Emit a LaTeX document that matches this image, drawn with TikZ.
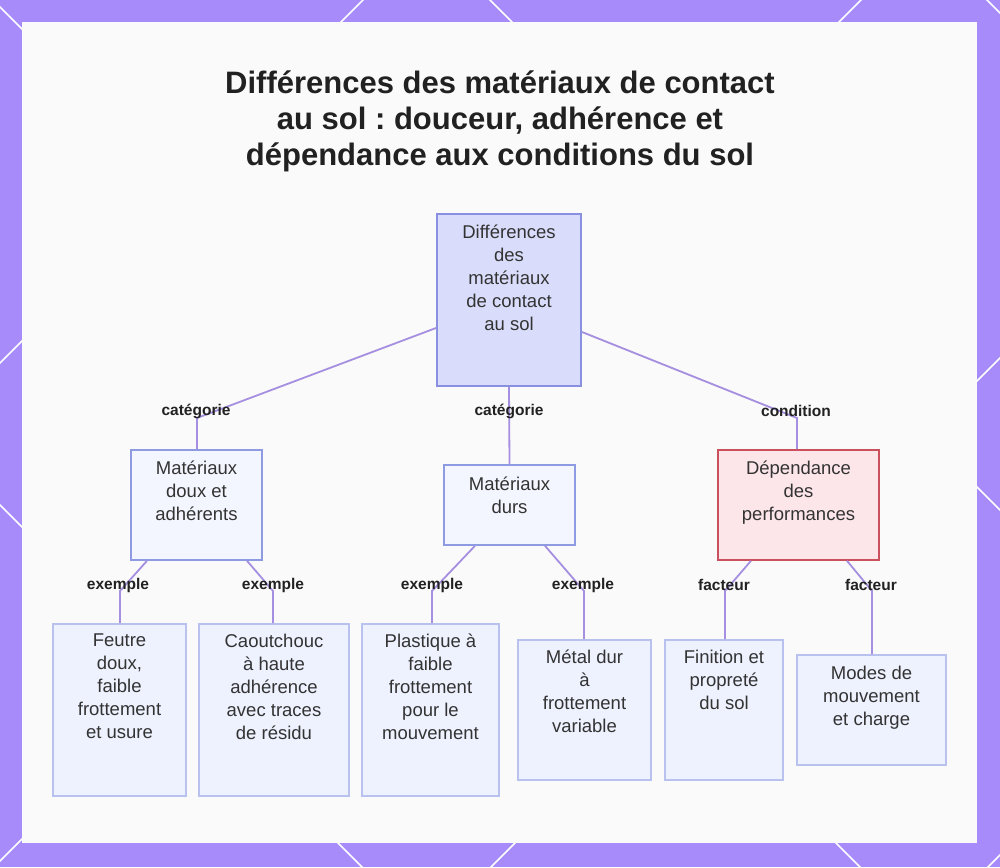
\documentclass[tikz,border=0pt]{standalone}
\usepackage{fontspec}
\setmainfont{Liberation Sans}
\frenchspacing
\definecolor{framec}{HTML}{A78BFA}
\definecolor{panelc}{HTML}{FAFAFA}
\definecolor{edgec}{HTML}{A58FE0}
\definecolor{titlec}{HTML}{212121}
\definecolor{bodyc}{HTML}{333333}
\definecolor{rootf}{HTML}{D9DDFB}
\definecolor{rootd}{HTML}{8A90E0}
\definecolor{midf}{HTML}{F4F6FF}
\definecolor{midd}{HTML}{8E9BE2}
\definecolor{redf}{HTML}{FDE6EA}
\definecolor{redd}{HTML}{C9505C}
\definecolor{leaff}{HTML}{EEF1FE}
\definecolor{leafd}{HTML}{B9C2EE}
\begin{document}
\begin{tikzpicture}[x=1pt,y=-1pt,
  edge/.style={draw=edgec, line width=1.8pt},
  lbl/.style={font=\bfseries\fontsize{15.5}{18}\selectfont, text=titlec, inner sep=1pt},
  txt/.style={font=\fontsize{18.5}{23}\selectfont, text=bodyc, align=center, inner sep=0pt, anchor=north},
  rootbox/.style={draw=rootd, fill=rootf, line width=2pt, inner sep=0pt},
  midbox/.style={draw=midd, fill=midf, line width=1.6pt, inner sep=0pt},
  redbox/.style={draw=redd, fill=redf, line width=1.6pt, inner sep=0pt},
  leafbox/.style={draw=leafd, fill=leaff, line width=1.6pt, inner sep=0pt},
  lattice/.style={draw=white, line width=1.5pt}
]
\useasboundingbox (0,0) rectangle (1000,867);
% frame
\fill[framec] (0,0) rectangle (1000,867);
\begin{scope}
\clip (0,0) rectangle (1000,867);
\foreach \c in {-505,-7,490,987} {
  \draw[lattice] (-100,-100-\c) -- (1100,1100-\c);
}
\foreach \c in {363,861,1358,1855} {
  \draw[lattice] (-100,\c+100) -- (1100,\c-1100);
}
\end{scope}
\fill[panelc] (22,22) rectangle (977,843);

% title
\node[font=\bfseries\fontsize{31}{36}\selectfont, text=titlec, align=center, inner sep=0pt] (title) at (500,121)
  {Différences des matériaux de contact\\au sol : douceur, adhérence et\\dépendance aux conditions du sol};

% boxes
\node[rootbox, minimum width=144pt, minimum height=172pt] (root) at (509,300) {};
\node[midbox, minimum width=131pt, minimum height=110pt] (m1) at (196.5,505) {};
\node[midbox, minimum width=131pt, minimum height=80pt] (m2) at (509.5,505) {};
\node[redbox, minimum width=161pt, minimum height=110pt] (m3) at (798.5,505) {};
\node[leafbox, minimum width=133pt, minimum height=172pt] (l1) at (119.5,710) {};
\node[leafbox, minimum width=150pt, minimum height=172pt] (l2) at (274,710) {};
\node[leafbox, minimum width=137pt, minimum height=172pt] (l3) at (430.5,710) {};
\node[leafbox, minimum width=133pt, minimum height=140pt] (l4) at (584.5,710) {};
\node[leafbox, minimum width=118pt, minimum height=140pt] (l5) at (724,710) {};
\node[leafbox, minimum width=149pt, minimum height=110pt] (l6) at (871.5,710) {};

% texts
\node[txt] (root-t) at (509,225) {Différences\\des\\matériaux\\de contact\\au sol};
\node[txt] (m1-t) at (196.5,461) {Matériaux\\doux et\\adhérents};
\node[txt] (m2-t) at (509.5,477) {Matériaux\\durs};
\node[txt] (m3-t) at (798.5,461) {Dépendance\\des\\performances};
\node[txt] (l1-t) at (119.5,634) {Feutre\\doux,\\faible\\frottement\\et usure};
\node[txt] (l2-t) at (274,634) {Caoutchouc\\à haute\\adhérence\\avec traces\\de résidu};
\node[txt] (l3-t) at (430.5,634) {Plastique à\\faible\\frottement\\pour le\\mouvement};
\node[txt] (l4-t) at (584.5,650) {Métal dur\\à\\frottement\\variable};
\node[txt] (l5-t) at (724,650) {Finition et\\propreté\\du sol};
\node[txt] (l6-t) at (871.5,666) {Modes de\\mouvement\\et charge};

% bend coordinates
\coordinate (b1) at (197,418);
\coordinate (b3) at (797,418);
\coordinate (b11) at (120,591);
\coordinate (b12) at (273,591);
\coordinate (b21) at (432,591);
\coordinate (b22) at (584,591);
\coordinate (b31) at (725,591);
\coordinate (b32) at (872,591);

% edges
\draw[edge] ([yshift=-28pt]root.west) -- (b1) -- (b1 |- m1.north);
\draw[edge] (root.south) -- (m2.north);
\draw[edge] ([yshift=-32pt]root.east) -- (b3) -- (b3 |- m3.north);
\draw[edge] ([xshift=-49.5pt]m1.south) -- (b11) -- (b11 |- l1.north);
\draw[edge] ([xshift=50.5pt]m1.south) -- (b12) -- (b12 |- l2.north);
\draw[edge] ([xshift=-34.5pt]m2.south) -- (b21) -- (b21 |- l3.north);
\draw[edge] ([xshift=35.5pt]m2.south) -- (b22) -- (b22 |- l4.north);
\draw[edge] ([xshift=-47.5pt]m3.south) -- (b31) -- (b31 |- l5.north);
\draw[edge] ([xshift=48.5pt]m3.south) -- (b32) -- (b32 |- l6.north);

% edge labels
\node[lbl] (e1) at (196,411) {catégorie};
\node[lbl] (e2) at (509,411) {catégorie};
\node[lbl] (e3) at (796,411) {condition};
\node[lbl] (e11) at (118,585) {exemple};
\node[lbl] (e12) at (273,585) {exemple};
\node[lbl] (e21) at (432,585) {exemple};
\node[lbl] (e22) at (583,585) {exemple};
\node[lbl] (e31) at (724,585) {facteur};
\node[lbl] (e32) at (871,585) {facteur};
\end{tikzpicture}
\end{document}
